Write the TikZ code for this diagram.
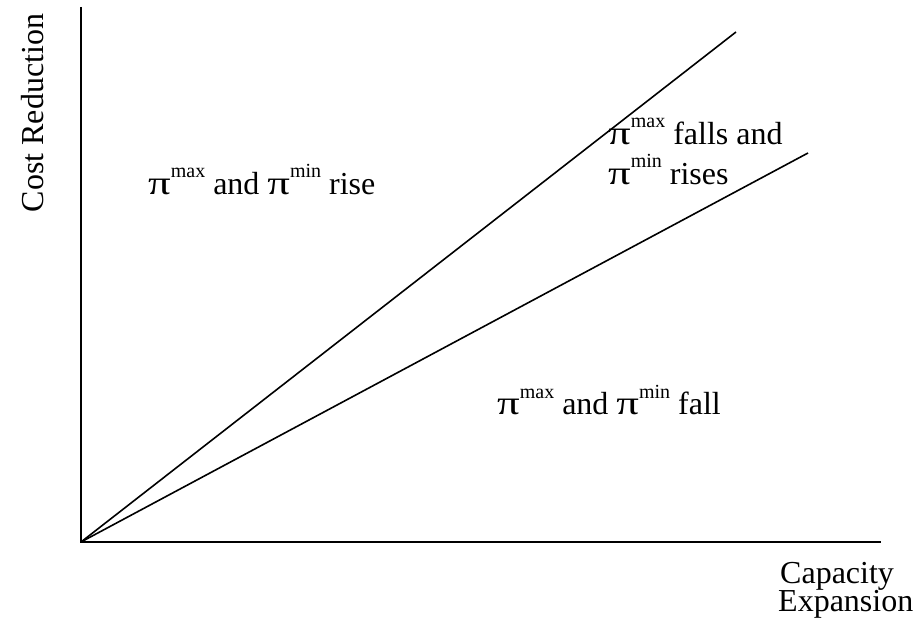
\documentclass[tikz,border=0pt]{standalone}
\usepackage{graphicx}
\usepackage{fontspec}
\setmainfont{Liberation Serif}
\newcommand\pis[1]{\scalebox{1.4}[1.05]{π}\raisebox{17pt}{\fontsize{20}{20}\selectfont #1}}
\tikzset{
  axis/.style={line width=1.8pt},
  curveline/.style={line width=1.6pt},
  lbl/.style={inner sep=0pt, anchor=base west, font=\fontsize{32}{38}\selectfont}
}
\begin{document}
\begin{tikzpicture}[x=1pt,y=-1pt]
\useasboundingbox (0,0) rectangle (919,628);
\coordinate (o) at (81,542);
\coordinate (ytop) at (81,7);
\coordinate (xend) at (881,542);
\coordinate (l1) at (736,32);
\coordinate (l2) at (808,153);
\draw[axis] (ytop) -- (o) -- (xend);
\draw[curveline] (o) -- (l1);
\draw[curveline] (o) -- (l2);
\node[lbl, rotate=90, anchor=base] (ylab) at (43,113) {Cost Reduction};
\node[lbl] (xl1) at (780,583) {Capacity};
\node[lbl] (xl2) at (778,611) {Expansion};
\node[lbl] (rise) at (148,195) {\pis{max} and \pis{min} rise};
\node[lbl] (fall) at (497,415) {\pis{max} and \pis{min} fall};
\node[lbl] (mix1) at (608,145) {\pis{max} falls and};
\node[lbl] (mix2) at (608,185) {\pis{min} rises};
\end{tikzpicture}
\end{document}
